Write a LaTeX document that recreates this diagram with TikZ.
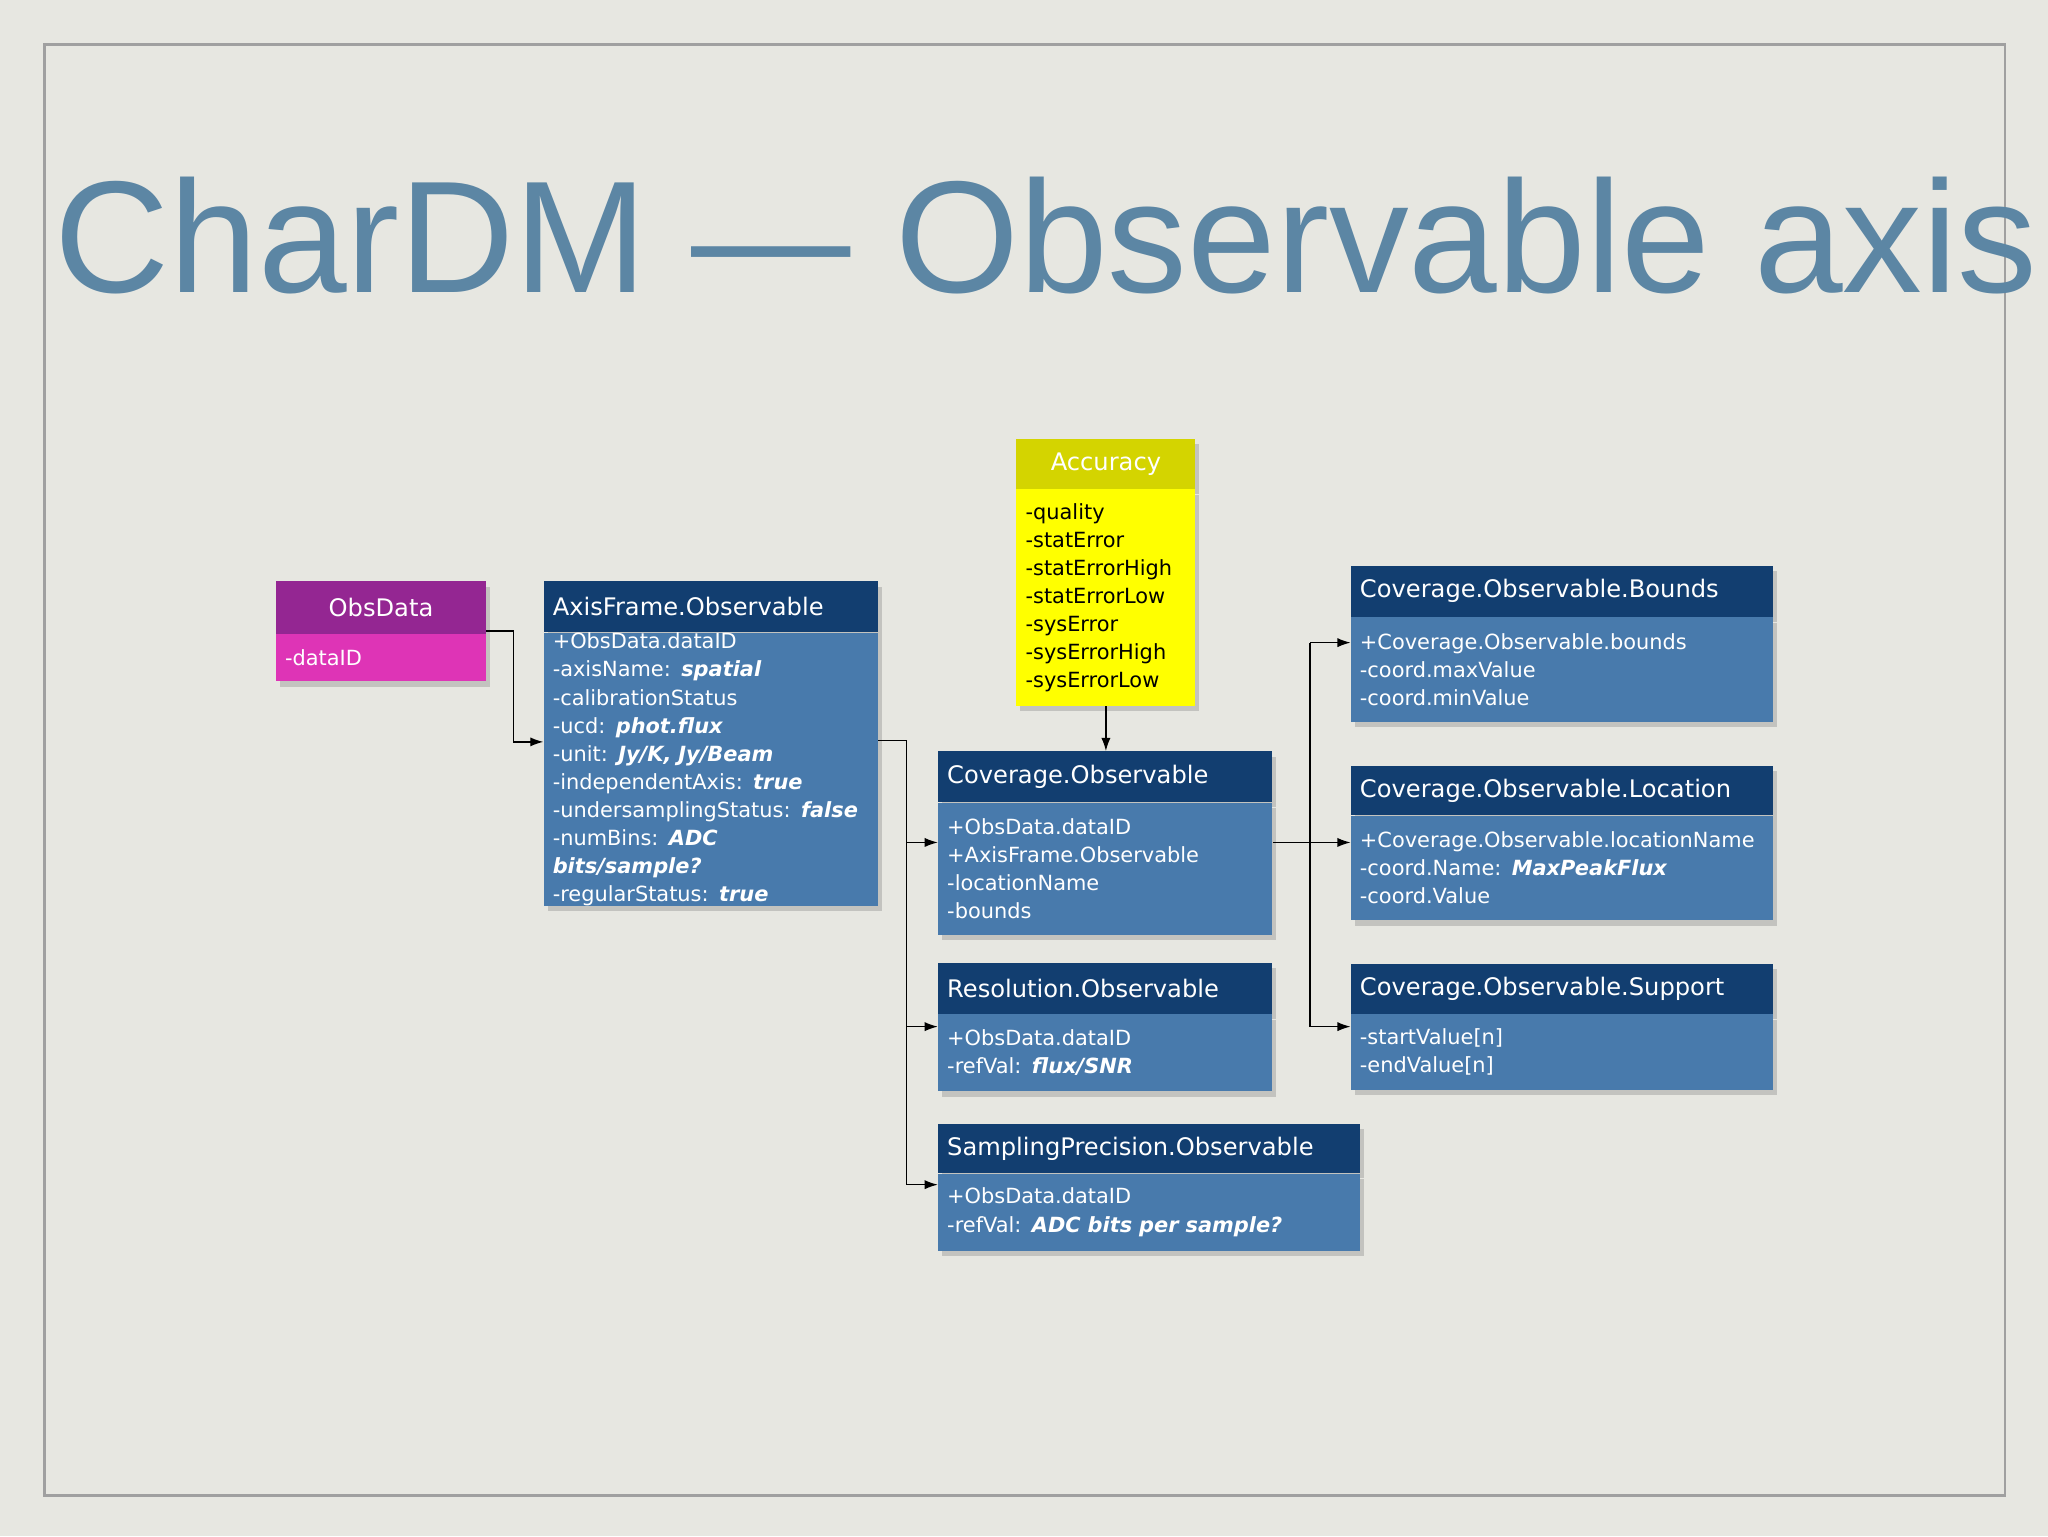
\documentclass[tikz,border=0pt]{standalone}
\usepackage{fontspec}
\setmainfont{DejaVu Sans}
\newfontfamily\titlefont{Liberation Sans}
\usetikzlibrary{arrows.meta,shadows}
\definecolor{bg}{RGB}{231,231,225}
\definecolor{frame}{RGB}{160,160,160}
\definecolor{titlec}{RGB}{92,134,164}
\definecolor{hblue}{RGB}{18,62,112}
\definecolor{bblue}{RGB}{72,122,172}
\definecolor{hpurp}{RGB}{148,38,146}
\definecolor{bpurp}{RGB}{222,52,182}
\definecolor{hyel}{RGB}{212,212,0}
\definecolor{byel}{RGB}{255,255,0}
\tikzset{
 box/.style={rectangle,anchor=north west,inner xsep=7pt,inner ysep=0pt,align=left,text=white,
   drop shadow={opacity=0.35,shadow xshift=3pt,shadow yshift=-4pt}},
 hdr/.style={box,fill=hblue,font=\fontsize{18.5}{22}\selectfont},
 bdy/.style={box,fill=bblue,font=\fontsize{16}{21.5}\selectfont},
 conn/.style={draw=black,line width=1pt},
 arr/.style={conn,-{Latex[length=10pt,width=7pt]}},
}
\newcommand\bi[1]{\textbf{\textit{#1}}}
\begin{document}
\begin{tikzpicture}[x=1pt,y=-1pt]
\fill[bg] (0,0) rectangle (1568,1176);
\useasboundingbox (0,0) rectangle (1568,1176);
\draw[frame,line width=2pt] (34,34) rectangle (1535,1145);
\node[text=titlec,font=\titlefont\fontsize{122}{122}\selectfont,anchor=base] (title) at (801,224) {CharDM — Observable axis};
% ObsData
\node[hdr,fill=hpurp,minimum width=161,minimum height=40,text width=147] (obs-h) at (211,445) {\hfil ObsData\hfil};
\node[bdy,fill=bpurp,minimum width=161,minimum height=36,text width=147] (obs) at (obs-h.south west) {-dataID};
% AxisFrame
\node[hdr,minimum width=256,minimum height=39,text width=242] (ax-h) at (416,445) {AxisFrame.Observable};
\node[bdy,minimum width=256,minimum height=207,text width=242] (ax) at (ax-h.south west) {+ObsData.dataID\\-axisName: \bi{spatial}\\-calibrationStatus\\-ucd: \bi{phot.flux}\\-unit: \bi{Jy/K, Jy/Beam}\\-independentAxis: \bi{true}\\-undersamplingStatus: \bi{false}\\-numBins: \bi{ADC bits/sample?}\\-regularStatus: \bi{true}};
% Accuracy
\node[hdr,fill=hyel,minimum width=137,minimum height=38,text width=123] (acc-h) at (778,336) {\hfil Accuracy\hfil};
\node[bdy,fill=byel,text=black,minimum width=137,minimum height=166,text width=123] (acc) at (acc-h.south west) {-quality\\-statError\\-statErrorHigh\\-statErrorLow\\-sysError\\-sysErrorHigh\\-sysErrorLow};
% Coverage
\node[hdr,minimum width=256,minimum height=39,text width=242] (cov-h) at (718,575) {Coverage.Observable};
\node[bdy,minimum width=256,minimum height=101,text width=242] (cov) at (cov-h.south west) {+ObsData.dataID\\+AxisFrame.Observable\\-locationName\\-bounds};
% Resolution
\node[hdr,minimum width=256,minimum height=39,text width=242] (res-h) at (718,737) {Resolution.Observable};
\node[bdy,minimum width=256,minimum height=59,text width=242] (res) at (res-h.south west) {+ObsData.dataID\\-refVal: \bi{flux/SNR}};
% Sampling
\node[hdr,minimum width=323,minimum height=38,text width=309] (sp-h) at (718,860) {SamplingPrecision.Observable};
\node[bdy,minimum width=323,minimum height=59,text width=309] (sp) at (sp-h.south west) {+ObsData.dataID\\-refVal: \bi{ADC bits per sample?}};
% Bounds
\node[hdr,minimum width=323,minimum height=39,text width=309] (bo-h) at (1034,433) {Coverage.Observable.Bounds};
\node[bdy,minimum width=323,minimum height=80,text width=309] (bo) at (bo-h.south west) {+Coverage.Observable.bounds\\-coord.maxValue\\-coord.minValue};
% Location
\node[hdr,minimum width=323,minimum height=38,text width=309] (lo-h) at (1034,586) {Coverage.Observable.Location};
\node[bdy,minimum width=323,minimum height=80,text width=309] (lo) at (lo-h.south west) {+Coverage.Observable.locationName\\-coord.Name: \bi{MaxPeakFlux}\\-coord.Value};
% Support
\node[hdr,minimum width=323,minimum height=38,text width=309] (su-h) at (1034,738) {Coverage.Observable.Support};
\node[bdy,minimum width=323,minimum height=58,text width=309] (su) at (su-h.south west) {-startValue[n]\\-endValue[n]};
% connectors
\coordinate (j1) at (393,483);
\draw[arr] (obs.east |- j1) -- (j1) |- (ax.west |- 0,568);
\coordinate (j2) at (694,567);
\draw[conn] (ax.east |- j2) -- (j2) -- (694,907);
\draw[arr] (694,645) -- (cov.west |- 0,645);
\draw[arr] (694,786) -- (res.west |- 0,786);
\draw[arr] (694,907) -- (sp.west |- 0,907);
\draw[arr] (acc.south) -- (cov-h.north -| acc.south);
\coordinate (j3) at (1003,645);
\draw[conn] (cov.east |- j3) -- (j3);
\draw[arr] (1003,492) -- (bo.west |- 0,492);
\draw[arr] (j3) -- (lo.west |- 0,645);
\draw[arr] (1003,492) -- (1003,786) -- (su.west |- 0,786);
\end{tikzpicture}
\end{document}
